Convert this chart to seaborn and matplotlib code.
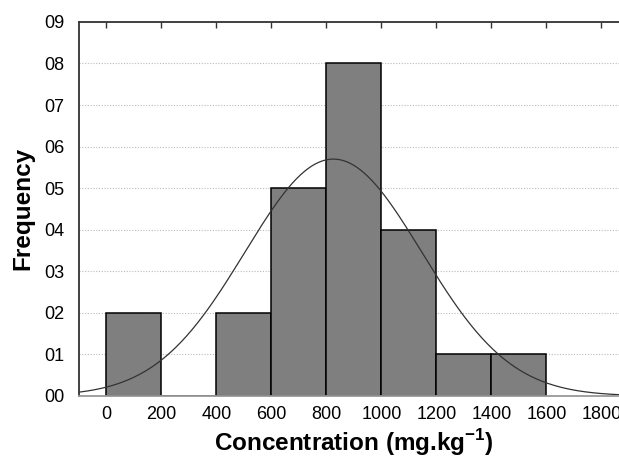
import seaborn as sns
import matplotlib.pyplot as plt
import pandas as pd
import numpy as np

sns.set_style('white')
plt.rcParams['font.family'] = ['Liberation Sans', 'DejaVu Sans']
plt.rcParams['mathtext.fontset'] = 'custom'
plt.rcParams['mathtext.bf'] = 'Liberation Sans:bold'

# Histogram data (bins of 200 mg/kg)
bin_edges = [0, 200, 400, 600, 800, 1000, 1200, 1400, 1600]
counts = [2, 0, 2, 5, 8, 4, 1, 1]
# fitted normal curve parameters
fit_mean = 825
fit_sd = 322

bin_centers = [(a + b) / 2 for a, b in zip(bin_edges[:-1], bin_edges[1:])]
df = pd.DataFrame({'conc': bin_centers, 'n': counts})

fig = plt.figure(figsize=(6.19, 4.59), dpi=100)
ax = fig.add_axes([0.1276, 0.1373, 0.8885, 0.815])

sns.histplot(data=df, x='conc', weights='n', bins=bin_edges, ax=ax,
             color='#7f7f7f', edgecolor='black', linewidth=1.1, alpha=1)

# normal curve scaled to counts
xs = np.linspace(-100, 1900, 400)
total = sum(counts)
bw = bin_edges[1] - bin_edges[0]
ys = total * bw / (fit_sd * np.sqrt(2 * np.pi)) * np.exp(-0.5 * ((xs - fit_mean) / fit_sd) ** 2)
sns.lineplot(x=xs, y=ys, ax=ax, color='#333333', linewidth=0.9)

ax.set_xlim(-100, 1900)
ax.set_ylim(0, 9)
ax.set_xticks(range(0, 1801, 200))
ax.set_yticks(range(0, 10))
ax.set_yticklabels(['0%d' % i for i in range(10)])
ax.yaxis.grid(True, linestyle=(0, (1, 1.5)), color='#bbbbbb', linewidth=0.8)
ax.set_axisbelow(True)
ax.tick_params(axis='x', top=True, bottom=False, direction='in', length=4,
               width=1, color='#333333', labelsize=13, labelcolor='black', pad=7)
ax.tick_params(axis='y', left=False, labelsize=13, labelcolor='black', pad=7)

for side in ['top', 'left']:
    ax.spines[side].set_color('#333333')
    ax.spines[side].set_linewidth(1.3)
ax.spines['bottom'].set_color('#999999')
ax.spines['bottom'].set_linewidth(1.3)
ax.spines['right'].set_visible(False)

ax.set_xlabel(r'Concentration (mg.kg$^{\mathbf{-1}}$)', fontsize=17.5, fontweight='bold',
              color='black', labelpad=3)
ax.set_ylabel('Frequency', fontsize=17.5, fontweight='bold', color='black', labelpad=7)

plt.savefig('out.png', dpi=100)
